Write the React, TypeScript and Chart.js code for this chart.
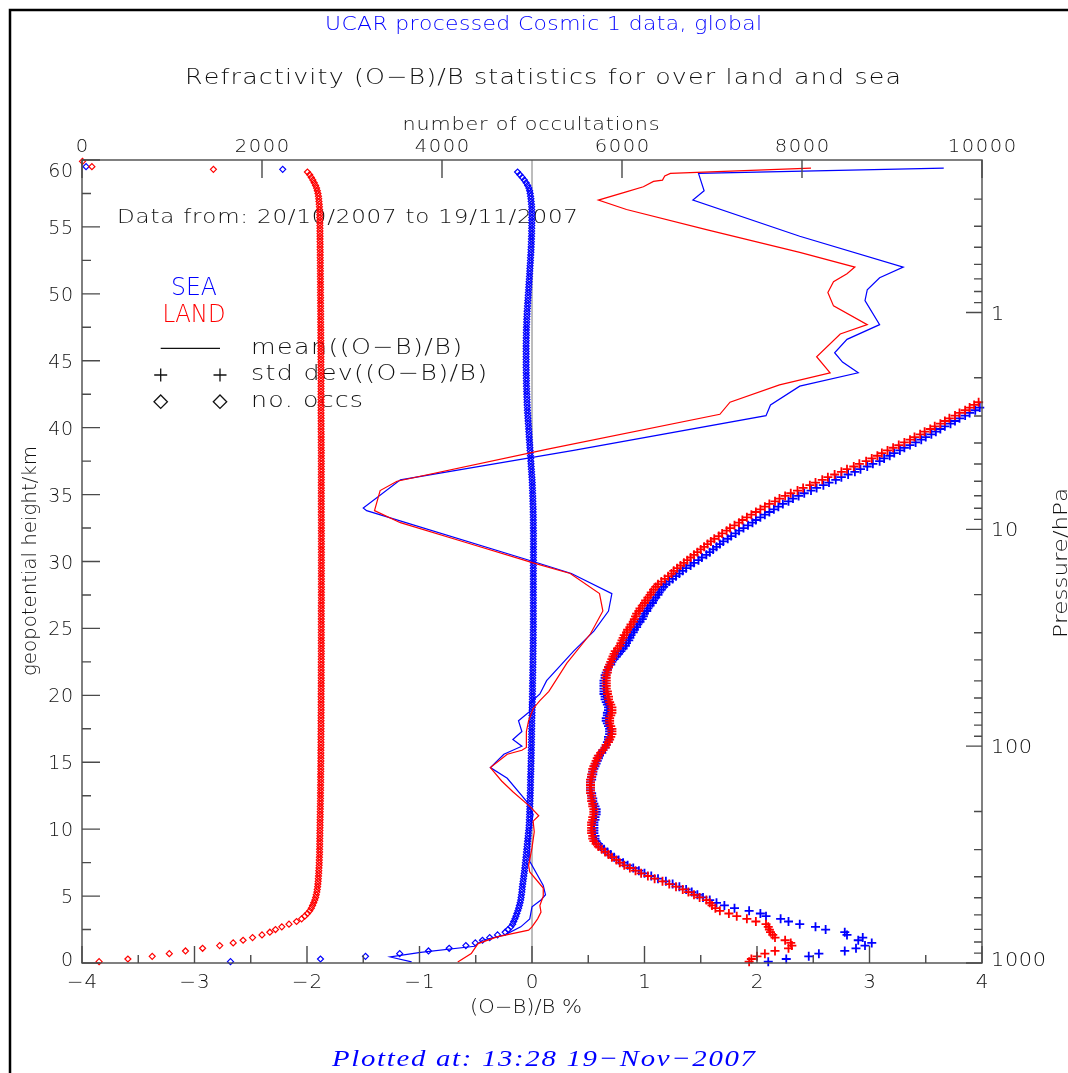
import React, { useEffect, useRef } from 'react';
import { Chart, registerables } from 'chart.js';

Chart.register(...registerables);

// Retrieval levels (geopotential height, km)
const levelKm = [
  0.1, 0.3, 0.5, 0.7, 0.9, 1.1, 1.3, 1.5, 1.7, 1.9,
  2.1, 2.3, 2.5, 2.7, 2.9, 3.1, 3.3, 3.5, 3.7, 3.9,
  4.1, 4.3, 4.5, 4.7, 4.9, 5.1, 5.3, 5.5, 5.7, 5.9,
  6.1, 6.3, 6.5, 6.7, 6.9, 7.1, 7.3, 7.5, 7.7, 7.9,
  8.1, 8.3, 8.5, 8.7, 8.9, 9.1, 9.3, 9.5, 9.7, 9.9,
  10.1, 10.3, 10.5, 10.7, 10.9, 11.1, 11.3, 11.5, 11.7, 11.9,
  12.1, 12.3, 12.5, 12.7, 12.9, 13.1, 13.3, 13.5, 13.7, 13.9,
  14.1, 14.3, 14.5, 14.7, 14.9, 15.1, 15.3, 15.5, 15.7, 15.9,
  16.1, 16.3, 16.5, 16.7, 16.9, 17.1, 17.3, 17.5, 17.7, 17.9,
  18.1, 18.3, 18.5, 18.7, 18.9, 19.1, 19.3, 19.5, 19.7, 19.9,
  20.1, 20.3, 20.5, 20.7, 20.9, 21.1, 21.3, 21.5, 21.7, 21.9,
  22.1, 22.3, 22.5, 22.7, 22.9, 23.1, 23.3, 23.5, 23.7, 23.9,
  24.1, 24.3, 24.5, 24.7, 24.9, 25.1, 25.3, 25.5, 25.7, 25.9,
  26.1, 26.3, 26.5, 26.7, 26.9, 27.1, 27.3, 27.5, 27.7, 27.9,
  28.1, 28.3, 28.5, 28.7, 28.9, 29.1, 29.3, 29.5, 29.7, 29.9,
  30.1, 30.3, 30.5, 30.7, 30.9, 31.1, 31.3, 31.5, 31.7, 31.9,
  32.1, 32.3, 32.5, 32.7, 32.9, 33.1, 33.3, 33.5, 33.7, 33.9,
  34.1, 34.3, 34.5, 34.7, 34.9, 35.1, 35.3, 35.5, 35.7, 35.9,
  36.1, 36.3, 36.5, 36.7, 36.9, 37.1, 37.3, 37.5, 37.7, 37.9,
  38.1, 38.3, 38.5, 38.7, 38.9, 39.1, 39.3, 39.5, 39.7, 39.9,
  40.1, 40.3, 40.5, 40.7, 40.9, 41.1, 41.3, 41.5, 41.7, 41.9,
  42.1, 42.3, 42.5, 42.7, 42.9, 43.1, 43.3, 43.5, 43.7, 43.9,
  44.1, 44.3, 44.5, 44.7, 44.9, 45.1, 45.3, 45.5, 45.7, 45.9,
  46.1, 46.3, 46.5, 46.7, 46.9, 47.1, 47.3, 47.5, 47.7, 47.9,
  48.1, 48.3, 48.5, 48.7, 48.9, 49.1, 49.3, 49.5, 49.7, 49.9,
  50.1, 50.3, 50.5, 50.7, 50.9, 51.1, 51.3, 51.5, 51.7, 51.9,
  52.1, 52.3, 52.5, 52.7, 52.9, 53.1, 53.3, 53.5, 53.7, 53.9,
  54.1, 54.3, 54.5, 54.7, 54.9, 55.1, 55.3, 55.5, 55.7, 55.9,
  56.1, 56.3, 56.5, 56.7, 56.9, 57.1, 57.3, 57.5, 57.7, 57.9,
  58.1, 58.3, 58.5, 58.7, 58.9, 59.1, 59.3, 59.5, 59.7, 59.9,
];

// Number of occultations per level (top axis)
const landOccs = [
  190, 510, 780, 970, 1150, 1340, 1530, 1680, 1790, 1895,
  2000, 2087, 2150, 2220, 2300, 2384, 2440, 2475, 2505, 2530,
  2548, 2562, 2575, 2586, 2596, 2603, 2609, 2614, 2618, 2621,
  2624, 2626, 2628, 2630, 2631, 2633, 2635, 2636, 2637, 2638,
  2639, 2640, 2640, 2641, 2641, 2642, 2642, 2643, 2643, 2644,
  2644, 2645, 2645, 2646, 2646, 2647, 2647, 2648, 2648, 2649,
  2649, 2650, 2650, 2650, 2651, 2651, 2651, 2652, 2652, 2652,
  2652, 2653, 2653, 2653, 2653, 2654, 2654, 2654, 2654, 2654,
  2655, 2655, 2655, 2655, 2655, 2655, 2656, 2656, 2656, 2656,
  2656, 2656, 2656, 2657, 2657, 2657, 2657, 2657, 2657, 2657,
  2657, 2657, 2658, 2658, 2658, 2658, 2658, 2658, 2658, 2658,
  2658, 2658, 2658, 2659, 2659, 2659, 2659, 2659, 2659, 2659,
  2659, 2659, 2659, 2659, 2659, 2659, 2659, 2659, 2659, 2659,
  2659, 2659, 2659, 2659, 2660, 2660, 2660, 2660, 2660, 2660,
  2660, 2660, 2660, 2660, 2660, 2660, 2660, 2660, 2660, 2660,
  2660, 2660, 2660, 2660, 2660, 2660, 2660, 2660, 2660, 2660,
  2660, 2660, 2660, 2660, 2660, 2660, 2659, 2659, 2659, 2659,
  2659, 2659, 2659, 2659, 2659, 2659, 2659, 2659, 2659, 2659,
  2659, 2659, 2659, 2659, 2659, 2659, 2659, 2659, 2659, 2659,
  2659, 2659, 2658, 2658, 2658, 2658, 2658, 2658, 2657, 2657,
  2657, 2657, 2657, 2657, 2656, 2656, 2656, 2656, 2656, 2656,
  2656, 2656, 2656, 2656, 2656, 2656, 2656, 2656, 2656, 2656,
  2656, 2656, 2655, 2655, 2655, 2655, 2655, 2654, 2654, 2654,
  2654, 2654, 2654, 2653, 2653, 2653, 2653, 2653, 2652, 2652,
  2652, 2652, 2652, 2652, 2651, 2651, 2651, 2651, 2651, 2650,
  2650, 2650, 2650, 2650, 2650, 2649, 2649, 2649, 2649, 2648,
  2648, 2648, 2648, 2647, 2647, 2647, 2646, 2646, 2646, 2645,
  2645, 2645, 2644, 2644, 2644, 2643, 2643, 2643, 2642, 2642,
  2641, 2640, 2638, 2636, 2633, 2630, 2627, 2622, 2615, 2606,
  2595, 2580, 2565, 2548, 2530, 2505, 1460, 110, null, 5,
];

const seaOccs = [
  1650, 2650, 3150, 3530, 3850, 4080, 4265, 4370, 4450, 4530,
  4617, 4702, 4735, 4765, 4785, 4797, 4810, 4822, 4832, 4842,
  4852, 4860, 4868, 4874, 4879, 4883, 4887, 4890, 4893, 4897,
  4901, 4905, 4909, 4913, 4917, 4920, 4924, 4927, 4930, 4933,
  4936, 4939, 4942, 4945, 4948, 4951, 4954, 4957, 4960, 4963,
  4966, 4968, 4970, 4971, 4972, 4973, 4974, 4975, 4976, 4977,
  4978, 4979, 4980, 4981, 4982, 4983, 4983, 4984, 4984, 4985,
  4986, 4987, 4988, 4988, 4989, 4990, 4991, 4991, 4992, 4993,
  4993, 4994, 4994, 4995, 4995, 4996, 4996, 4997, 4997, 4998,
  4998, 4999, 5000, 5001, 5001, 5002, 5003, 5003, 5004, 5004,
  5005, 5005, 5006, 5006, 5007, 5007, 5008, 5008, 5009, 5009,
  5010, 5010, 5011, 5011, 5011, 5012, 5012, 5012, 5013, 5013,
  5013, 5014, 5014, 5014, 5014, 5015, 5015, 5015, 5015, 5015,
  5015, 5015, 5015, 5015, 5015, 5015, 5015, 5015, 5015, 5015,
  5015, 5015, 5015, 5015, 5015, 5015, 5015, 5015, 5015, 5015,
  5016, 5016, 5016, 5016, 5016, 5016, 5016, 5016, 5016, 5016,
  5016, 5016, 5015, 5015, 5015, 5015, 5014, 5014, 5013, 5013,
  5012, 5011, 5010, 5009, 5008, 5007, 5006, 5005, 5004, 5003,
  5001, 4999, 4997, 4995, 4993, 4991, 4989, 4987, 4985, 4983,
  4981, 4979, 4977, 4975, 4973, 4971, 4969, 4967, 4965, 4963,
  4961, 4959, 4957, 4955, 4953, 4951, 4949, 4948, 4946, 4945,
  4944, 4943, 4942, 4941, 4940, 4939, 4938, 4938, 4937, 4937,
  4936, 4936, 4935, 4935, 4935, 4935, 4935, 4935, 4935, 4935,
  4935, 4935, 4936, 4936, 4937, 4937, 4938, 4939, 4940, 4941,
  4942, 4943, 4945, 4946, 4948, 4950, 4952, 4954, 4956, 4958,
  4960, 4962, 4964, 4966, 4968, 4970, 4972, 4974, 4975, 4977,
  4979, 4981, 4983, 4984, 4986, 4988, 4989, 4991, 4992, 4993,
  4994, 4995, 4996, 4996, 4997, 4997, 4998, 4998, 4998, 4998,
  4998, 4997, 4996, 4994, 4991, 4988, 4984, 4980, 4974, 4965,
  4952, 4935, 4915, 4892, 4865, 4840, 2230, 45, null, null,
];

// Standard deviation of (O-B)/B in %, levels 0.1 to 41.9 km
const landStdPct = [
  1.93, 1.95, 2.00, 2.07, 2.16, 2.28, 2.31, 2.30, 2.25, 2.16,
  2.14, 2.12, 2.11, 2.10, 2.08, 1.99, 1.91, 1.82, 1.75, 1.67,
  1.63, 1.60, 1.58, 1.55, 1.49, 1.44, 1.39, 1.34, 1.28, 1.22,
  1.16, 1.09, 1.03, 0.97, 0.92, 0.87, 0.82, 0.78, 0.75, 0.71,
  0.68, 0.65, 0.62, 0.59, 0.57, 0.55, 0.54, 0.54, 0.53, 0.53,
  0.53, 0.53, 0.53, 0.54, 0.54, 0.55, 0.55, 0.55, 0.54, 0.54,
  0.53, 0.53, 0.53, 0.52, 0.52, 0.52, 0.52, 0.52, 0.52, 0.53,
  0.53, 0.54, 0.54, 0.55, 0.56, 0.57, 0.58, 0.59, 0.61, 0.63,
  0.65, 0.66, 0.68, 0.69, 0.70, 0.71, 0.71, 0.71, 0.70, 0.69,
  0.69, 0.69, 0.70, 0.71, 0.71, 0.71, 0.70, 0.69, 0.68, 0.68,
  0.67, 0.67, 0.66, 0.66, 0.66, 0.66, 0.66, 0.66, 0.67, 0.67,
  0.68, 0.69, 0.70, 0.71, 0.72, 0.73, 0.74, 0.76, 0.78, 0.79,
  0.80, 0.81, 0.82, 0.84, 0.85, 0.87, 0.88, 0.90, 0.91, 0.92,
  0.93, 0.95, 0.96, 0.98, 1.00, 1.01, 1.03, 1.05, 1.06, 1.08,
  1.10, 1.12, 1.15, 1.18, 1.21, 1.24, 1.26, 1.29, 1.32, 1.35,
  1.38, 1.41, 1.44, 1.47, 1.50, 1.53, 1.56, 1.59, 1.62, 1.66,
  1.69, 1.73, 1.76, 1.80, 1.84, 1.87, 1.91, 1.95, 1.99, 2.03,
  2.07, 2.11, 2.16, 2.20, 2.25, 2.30, 2.36, 2.41, 2.47, 2.52,
  2.58, 2.63, 2.69, 2.75, 2.80, 2.86, 2.91, 2.97, 3.02, 3.07,
  3.11, 3.16, 3.21, 3.26, 3.31, 3.36, 3.40, 3.45, 3.49, 3.54,
  3.58, 3.63, 3.67, 3.71, 3.76, 3.80, 3.85, 3.89, 3.93, 3.97,
];

const seaStdPct = [
  2.10, 2.26, 2.46, 2.55, 2.78, 2.88, 2.96, 3.02, 2.90, 2.94,
  2.80, 2.78, 2.61, 2.52, 2.38, 2.28, 2.21, 2.08, 2.03, 1.93,
  1.80, 1.71, 1.64, 1.58, 1.52, 1.47, 1.42, 1.37, 1.31, 1.25,
  1.19, 1.12, 1.06, 1.00, 0.95, 0.90, 0.85, 0.81, 0.77, 0.73,
  0.70, 0.67, 0.64, 0.61, 0.59, 0.57, 0.56, 0.56, 0.55, 0.55,
  0.55, 0.55, 0.55, 0.56, 0.56, 0.57, 0.57, 0.57, 0.56, 0.55,
  0.54, 0.54, 0.53, 0.53, 0.52, 0.52, 0.52, 0.52, 0.53, 0.53,
  0.54, 0.54, 0.55, 0.56, 0.57, 0.58, 0.59, 0.60, 0.62, 0.63,
  0.65, 0.66, 0.67, 0.68, 0.68, 0.69, 0.69, 0.69, 0.68, 0.67,
  0.66, 0.66, 0.67, 0.67, 0.68, 0.68, 0.67, 0.66, 0.65, 0.65,
  0.64, 0.64, 0.64, 0.64, 0.64, 0.64, 0.65, 0.65, 0.66, 0.67,
  0.68, 0.70, 0.71, 0.73, 0.75, 0.77, 0.79, 0.81, 0.83, 0.84,
  0.86, 0.87, 0.88, 0.90, 0.91, 0.93, 0.94, 0.96, 0.98, 0.99,
  1.00, 1.02, 1.03, 1.05, 1.07, 1.08, 1.10, 1.12, 1.13, 1.15,
  1.17, 1.19, 1.22, 1.25, 1.28, 1.31, 1.34, 1.37, 1.41, 1.44,
  1.48, 1.51, 1.55, 1.58, 1.61, 1.64, 1.67, 1.70, 1.74, 1.77,
  1.81, 1.84, 1.88, 1.92, 1.96, 1.99, 2.03, 2.07, 2.11, 2.15,
  2.19, 2.23, 2.28, 2.32, 2.37, 2.42, 2.48, 2.53, 2.59, 2.64,
  2.70, 2.75, 2.81, 2.87, 2.92, 2.98, 3.03, 3.09, 3.13, 3.18,
  3.22, 3.27, 3.31, 3.36, 3.41, 3.46, 3.50, 3.55, 3.59, 3.63,
  3.67, 3.72, 3.76, 3.80, 3.85, 3.89, 3.94, 3.98, null, null,
];

// Mean of (O-B)/B in %, profile vertices from top to bottom
const landMeanPct = [
  2.48, 1.23, 1.18, 1.16, 1.08, 0.99, 0.83, 0.59, 0.84, 1.55,
  2.38, 2.87, 2.80, 2.68, 2.63, 2.68, 2.98, 2.74, 2.53, 2.65,
  2.20, 1.76, 1.67, 0.14, -1.20, -1.35, -1.40, -1.17, -0.58, 0.01,
  0.34, 0.60, 0.63, 0.52, 0.31, 0.15, 0.07, 0.01, -0.03, -0.05,
  -0.05, -0.09, -0.22, -0.37, -0.27, -0.17, -0.02, 0.06, 0.01, 0.02,
  0.00, -0.03, -0.02, 0.10, 0.10, 0.07, 0.08, 0.05, 0.00, -0.03,
  -0.31, -0.48, -0.54, -0.66,
];
const landMeanKm = [
  59.4, 59.0, 58.8, 58.5, 58.4, 58.0, 57.6, 57.0, 56.3, 54.8,
  53.1, 52.0, 51.5, 50.9, 50.1, 49.1, 47.7, 47.0, 45.3, 44.1,
  43.2, 41.9, 41.0, 38.4, 36.0, 35.3, 33.8, 32.9, 31.4, 29.9,
  29.1, 27.6, 26.3, 24.6, 22.4, 20.3, 19.6, 19.0, 18.1, 17.3,
  16.1, 15.9, 15.6, 14.6, 13.6, 12.8, 11.7, 11.0, 10.6, 9.8,
  8.6, 7.3, 6.8, 5.6, 5.0, 4.3, 3.8, 3.3, 2.7, 2.45,
  1.95, 1.45, 0.7, 0.08,
];
const seaMeanPct = [
  3.66, 1.48, 1.53, 1.43, 2.38, 3.30, 3.09, 2.98, 2.96, 3.09,
  2.80, 2.69, 2.76, 2.90, 2.38, 2.12, 2.08, 0.37, -1.17, -1.50,
  -1.47, 0.01, 0.35, 0.71, 0.68, 0.55, 0.37, 0.13, 0.07, -0.02,
  -0.02, -0.12, -0.09, -0.17, -0.09, -0.25, -0.37, -0.22, -0.05, 0.01,
  -0.02, -0.02, -0.02, 0.10, 0.12, 0.08, 0.00, -0.02, -0.10, -0.24,
  -0.44, -0.51, -0.99, -1.26, -1.07,
];
const seaMeanKm = [
  59.4, 59.0, 57.7, 57.0, 54.3, 52.0, 51.2, 50.3, 49.5, 47.7,
  46.6, 45.6, 44.9, 44.1, 43.1, 41.7, 40.9, 38.3, 36.1, 34.0,
  33.8, 30.0, 29.1, 27.6, 26.3, 24.8, 23.3, 21.1, 20.1, 19.4,
  18.8, 18.1, 17.3, 16.7, 16.2, 15.6, 14.6, 13.8, 12.1, 11.1,
  9.8, 8.6, 7.6, 5.8, 5.1, 4.7, 4.2, 3.3, 2.7, 2.1,
  1.7, 1.25, 0.8, 0.45, 0.08,
];

// Axis ticks
const pctMajorTicks = [-4, -3, -2, -1, 0, 1, 2, 3, 4];
const pctMinorTicks = [-3.5, -2.5, -1.5, -0.5, 0.5, 1.5, 2.5, 3.5];
const occTicks = [0, 2000, 4000, 6000, 8000, 10000];
const heightMajorTicks = [0, 5, 10, 15, 20, 25, 30, 35, 40, 45, 50, 55, 60];
const heightMinorTicks = [2.5, 7.5, 12.5, 17.5, 22.5, 27.5, 32.5, 37.5, 42.5, 47.5, 52.5, 57.5];
const pressureMajorTicks = [1, 10, 100, 1000];
const pressureMinorTicks = [
  0.3, 0.4, 0.5, 0.6, 0.7, 0.8, 0.9,
  2, 3, 4, 5, 6, 7, 8, 9,
  20, 30, 40, 50, 60, 70, 80, 90,
  200, 300, 400, 500, 600, 700, 800, 900,
];

const RED = '#ff0000';
const BLUE = '#0000ff';
const INK = '#111111';
const AXIS = '#4a4a4a';
const SANS = '"DejaVu Sans", "Liberation Sans", sans-serif';
const SERIF = '"Liberation Serif", "DejaVu Serif", serif';
const THIN = '200';

const toPoints = (xs: (number | null)[], ys: number[]) =>
  xs.flatMap((x, i) => (x === null || x === undefined ? [] : [{ x, y: ys[i] }]));

// Draw text character by character, stretched horizontally and with extra spacing
function drawSpaced(
  ctx: CanvasRenderingContext2D, text: string, x: number, y: number,
  font: string, color: string, spacing: number,
  align: 'left' | 'center' | 'right' = 'left', stretch = 1,
) {
  ctx.save();
  ctx.font = font;
  ctx.fillStyle = color;
  ctx.textAlign = 'left';
  ctx.textBaseline = 'alphabetic';
  const chars = Array.from(text);
  const widths = chars.map((c) => ctx.measureText(c).width * stretch);
  const total = widths.reduce((s, w) => s + w, 0) + spacing * (chars.length - 1);
  let cx = align === 'left' ? x : align === 'center' ? x - total / 2 : x - total;
  chars.forEach((c, i) => {
    ctx.save();
    ctx.translate(cx, y);
    ctx.scale(stretch, 1);
    ctx.fillText(c, 0, 0);
    ctx.restore();
    cx += widths[i] + spacing;
  });
  ctx.restore();
}

// Draw text spread to a given overall width
function drawFitted(
  ctx: CanvasRenderingContext2D, text: string, x: number, y: number,
  font: string, color: string, width: number,
  align: 'left' | 'center' | 'right' = 'left', maxStretch = 1.15,
) {
  ctx.save();
  ctx.font = font;
  const chars = Array.from(text);
  const natural = chars.reduce((s, c) => s + ctx.measureText(c).width, 0);
  ctx.restore();
  const stretch = Math.max(0.85, Math.min(maxStretch, width / natural));
  const spacing = chars.length > 1 ? (width - natural * stretch) / (chars.length - 1) : 0;
  drawSpaced(ctx, text, x, y, font, color, spacing, align, stretch);
}

const labelsPlugin = {
  id: 'profileDecorations',
  beforeDatasetsDraw(chart: any) {
    const { ctx, chartArea: a, scales } = chart;
    ctx.save();

    // outer frame of the figure
    ctx.strokeStyle = '#000';
    ctx.lineWidth = 2.5;
    ctx.beginPath();
    ctx.moveTo(10, chart.height);
    ctx.lineTo(10, 10);
    ctx.lineTo(chart.width, 10);
    ctx.stroke();

    // zero line
    const x0 = scales.x.getPixelForValue(0);
    ctx.strokeStyle = '#7a7a7a';
    ctx.lineWidth = 1;
    ctx.beginPath();
    ctx.moveTo(x0, a.top);
    ctx.lineTo(x0, a.bottom);
    ctx.stroke();

    // headings
    drawFitted(ctx, 'UCAR processed Cosmic 1 data, global', 543.5, 30, `${THIN} 19px ${SANS}`, BLUE, 437, 'center');
    drawFitted(ctx, 'Refractivity (O\u2212B)/B statistics for over land and sea', 543, 84, `${THIN} 22px ${SANS}`, INK, 716, 'center');
    drawFitted(ctx, 'number of occultations', 531, 129.5, `${THIN} 18px ${SANS}`, INK, 257, 'center');

    drawFitted(ctx, 'Data from: 20/10/2007 to 19/11/2007', 117, 223, `${THIN} 20px ${SANS}`, INK, 461, 'left');

    // key
    drawFitted(ctx, 'SEA', 194, 295, `${THIN} 25px ${SANS}`, BLUE, 46, 'center');
    drawFitted(ctx, 'LAND', 194, 322, `${THIN} 25px ${SANS}`, RED, 63, 'center');

    ctx.strokeStyle = INK;
    ctx.lineWidth = 1.3;
    ctx.beginPath();
    ctx.moveTo(160.7, 348.3);
    ctx.lineTo(220, 348.3);
    ctx.stroke();
    [160.7, 220].forEach((kx) => {
      ctx.beginPath();
      ctx.moveTo(kx - 6.5, 375);
      ctx.lineTo(kx + 6.5, 375);
      ctx.moveTo(kx, 368.5);
      ctx.lineTo(kx, 381.5);
      ctx.stroke();
      ctx.beginPath();
      ctx.moveTo(kx, 395);
      ctx.lineTo(kx + 6.7, 401.7);
      ctx.lineTo(kx, 408.4);
      ctx.lineTo(kx - 6.7, 401.7);
      ctx.closePath();
      ctx.stroke();
    });
    drawFitted(ctx, 'mean((O\u2212B)/B)', 251, 353.5, `${THIN} 22px ${SANS}`, INK, 211, 'left');
    drawFitted(ctx, 'std dev((O\u2212B)/B)', 251, 380, `${THIN} 22px ${SANS}`, INK, 236, 'left');
    drawFitted(ctx, 'no. occs', 251, 406.5, `${THIN} 22px ${SANS}`, INK, 112, 'left');

    // axis titles
    drawFitted(ctx, '(O\u2212B)/B %', 470, 1013, `${THIN} 19px ${SANS}`, INK, 112, 'left');

    ctx.save();
    ctx.translate(36, 561);
    ctx.rotate(-Math.PI / 2);
    drawFitted(ctx, 'geopotential height/km', 0, 0, `${THIN} 20px ${SANS}`, INK, 230, 'center');
    ctx.restore();

    ctx.save();
    ctx.translate(1067, 563);
    ctx.rotate(-Math.PI / 2);
    drawFitted(ctx, 'Pressure/hPa', 0, 0, `${THIN} 20px ${SANS}`, INK, 150, 'center');
    ctx.restore();

    drawFitted(ctx, 'Plotted at: 13:28 19\u2212Nov\u22122007', 332, 1066, `italic 24px ${SERIF}`, BLUE, 423, 'left', 1.2);

    ctx.restore();
  },
  afterDatasetsDraw(chart: any) {
    const { ctx, chartArea: a, scales } = chart;
    const { x, xOcc, y, yP } = scales;
    ctx.save();
    ctx.strokeStyle = AXIS;
    ctx.lineWidth = 1.4;
    ctx.strokeRect(a.left, a.top, a.right - a.left, a.bottom - a.top);

    ctx.beginPath();
    // bottom axis: ticks point up into the plot
    pctMajorTicks.forEach((v) => {
      const px = x.getPixelForValue(v);
      ctx.moveTo(px, a.bottom);
      ctx.lineTo(px, a.bottom - 17);
    });
    pctMinorTicks.forEach((v) => {
      const px = x.getPixelForValue(v);
      ctx.moveTo(px, a.bottom);
      ctx.lineTo(px, a.bottom - 8);
    });
    // top axis: ticks point down
    occTicks.forEach((v) => {
      const px = xOcc.getPixelForValue(v);
      ctx.moveTo(px, a.top);
      ctx.lineTo(px, a.top + 18);
    });
    // left axis
    heightMajorTicks.forEach((v) => {
      const py = y.getPixelForValue(v);
      ctx.moveTo(a.left, py);
      ctx.lineTo(a.left + 18, py);
    });
    heightMinorTicks.forEach((v) => {
      const py = y.getPixelForValue(v);
      ctx.moveTo(a.left, py);
      ctx.lineTo(a.left + 9, py);
    });
    // right axis (pressure)
    pressureMajorTicks.forEach((v) => {
      const py = yP.getPixelForValue(v);
      ctx.moveTo(a.right, py);
      ctx.lineTo(a.right - 16, py);
    });
    pressureMinorTicks.forEach((v) => {
      const py = yP.getPixelForValue(v);
      ctx.moveTo(a.right, py);
      ctx.lineTo(a.right - 8, py);
    });
    ctx.stroke();

    const clampY = (py: number) => Math.min(Math.max(py, a.top + 10), a.bottom - 4);
    const tickFont = `${THIN} 19px ${SANS}`;

    pctMajorTicks.forEach((v) => {
      const txt = v < 0 ? `\u2212${Math.abs(v)}` : `${v}`;
      drawSpaced(ctx, txt, x.getPixelForValue(v), 988, tickFont, INK, 1, 'center', 1.05);
    });
    occTicks.forEach((v) => {
      drawSpaced(ctx, `${v}`, xOcc.getPixelForValue(v), 151.5, `${THIN} 17px ${SANS}`, INK, 1.6, 'center', 1.15);
    });
    heightMajorTicks.forEach((v) => {
      drawSpaced(ctx, `${v}`, a.left - 9, clampY(y.getPixelForValue(v)) + 7, tickFont, INK, 0.5, 'right');
    });
    pressureMajorTicks.forEach((v) => {
      drawSpaced(ctx, `${v}`, a.right + 9, clampY(yP.getPixelForValue(v)) + 7, tickFont, INK, 0.6, 'left', 1.1);
    });
    ctx.restore();
  },
};

export default function App() {
  const canvasRef = useRef<HTMLCanvasElement | null>(null);

  useEffect(() => {
    const canvas = canvasRef.current;
    if (!canvas) return;

    const stdLevels = levelKm.slice(0, landStdPct.length);
    const crossStyle = { pointStyle: 'cross', pointRadius: 4.5, pointBorderWidth: 1.8, showLine: false };
    const diamondStyle = {
      pointStyle: 'rectRot', pointRadius: 3, pointBorderWidth: 1.2,
      pointBackgroundColor: 'rgba(0,0,0,0)', showLine: false,
    };

    const chart = new Chart(canvas, {
      type: 'scatter',
      data: {
        datasets: [
          {
            label: 'LAND mean((O-B)/B)', data: toPoints(landMeanPct, landMeanKm),
            showLine: true, pointRadius: 0, borderColor: RED, borderWidth: 1.2,
            xAxisID: 'x', yAxisID: 'y',
          },
          {
            label: 'LAND std dev((O-B)/B)', data: toPoints(landStdPct, stdLevels),
            ...crossStyle, borderColor: RED, pointBorderColor: RED, xAxisID: 'x', yAxisID: 'y',
          },
          {
            label: 'LAND no. occs', data: toPoints(landOccs, levelKm),
            ...diamondStyle, borderColor: RED, pointBorderColor: RED, xAxisID: 'xOcc', yAxisID: 'y',
          },
          {
            label: 'SEA mean((O-B)/B)', data: toPoints(seaMeanPct, seaMeanKm),
            showLine: true, pointRadius: 0, borderColor: BLUE, borderWidth: 1.2,
            xAxisID: 'x', yAxisID: 'y',
          },
          {
            label: 'SEA std dev((O-B)/B)', data: toPoints(seaStdPct, stdLevels),
            ...crossStyle, borderColor: BLUE, pointBorderColor: BLUE, xAxisID: 'x', yAxisID: 'y',
          },
          {
            label: 'SEA no. occs', data: toPoints(seaOccs, levelKm),
            ...diamondStyle, borderColor: BLUE, pointBorderColor: BLUE, xAxisID: 'xOcc', yAxisID: 'y',
          },
        ] as any,
      },
      options: {
        animation: false,
        responsive: false,
        clip: false as any,
        layout: { padding: { left: 82, top: 160, right: 86, bottom: 110 } },
        scales: {
          x: { type: 'linear', position: 'bottom', min: -4, max: 4, display: false },
          xOcc: { type: 'linear', position: 'top', min: 0, max: 10000, display: false },
          y: { type: 'linear', position: 'left', min: 0, max: 60, display: false },
          yP: { type: 'logarithmic', position: 'right', min: 0.198, max: 1000, reverse: true, display: false },
        },
        plugins: {
          legend: { display: false },
          tooltip: { enabled: false },
          title: { display: false },
        },
        events: [],
      },
      plugins: [labelsPlugin],
    });

    return () => chart.destroy();
  }, []);

  return (
    <div style={{ position: 'fixed', left: 0, top: 0, width: 1068, height: 1073, background: '#ffffff' }}>
      <canvas ref={canvasRef} width={1068} height={1073} style={{ display: 'block' }} />
    </div>
  );
}
